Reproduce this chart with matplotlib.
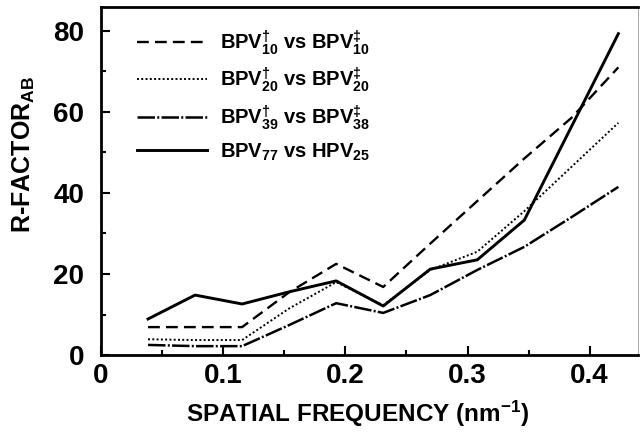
import matplotlib
matplotlib.use("Agg")
import matplotlib.pyplot as plt
from matplotlib.ticker import MultipleLocator

plt.rcParams['font.family'] = ['Liberation Sans', 'DejaVu Sans']
plt.rcParams['font.weight'] = 'bold'
plt.rcParams['mathtext.fontset'] = 'custom'
plt.rcParams['mathtext.rm'] = 'Liberation Sans:bold'
plt.rcParams['mathtext.bf'] = 'Liberation Sans:bold'
plt.rcParams['mathtext.default'] = 'bf'

# spatial frequency (nm^-1)
freq = [0.0385, 0.077, 0.1155, 0.154, 0.1925, 0.231, 0.2695, 0.308, 0.3465, 0.385, 0.4235]
freq_solid = [0.0385, 0.077, 0.1155, 0.154, 0.1925, 0.231, 0.2695, 0.308, 0.3465, 0.4235]

r_bpv10 = [6.9, 6.9, 6.9, 15.5, 22.5, 16.8, 27.5, 38.0, 48.5, 58.5, 71.0]
r_bpv20 = [3.9, 3.7, 3.7, 11.5, 18.0, 12.3, 21.0, 25.5, 35.5, 46.4, 57.3]
r_bpv39 = [2.5, 2.2, 2.2, 7.4, 12.8, 10.4, 14.8, 21.0, 26.7, 34.0, 41.5]
r_hpv = [8.9, 14.8, 12.6, 15.6, 18.3, 12.1, 21.2, 23.5, 33.3, 79.3]

labels = [r'BPV$^{†}_{10}$ vs BPV$^{‡}_{10}$',
          r'BPV$^{†}_{20}$ vs BPV$^{‡}_{20}$',
          r'BPV$^{†}_{39}$ vs BPV$^{‡}_{38}$',
          r'BPV$_{77}$ vs HPV$_{25}$']

fig = plt.figure(figsize=(6.41, 4.33), dpi=100)
ax = fig.add_axes([0.1576, 0.180, 0.8374, 0.804])

ax.plot(freq, r_bpv10, color='black', lw=1.7, dashes=(5, 2.6), label=labels[0])
ax.plot(freq, r_bpv20, color='black', lw=1.4, dashes=(1, 1.2), label=labels[1])
ax.plot(freq, r_bpv39, color='black', lw=1.8, dashes=(7, 0.9, 0.8, 0.9), label=labels[2])
ax.plot(freq_solid, r_hpv, color='black', lw=2.1, label=labels[3])

ax.set_xlim(0, 0.4394)
ax.set_ylim(0, 85.9)
ax.xaxis.set_major_locator(MultipleLocator(0.1))
ax.xaxis.set_minor_locator(MultipleLocator(0.05))
ax.yaxis.set_major_locator(MultipleLocator(20))
ax.yaxis.set_minor_locator(MultipleLocator(10))
ax.set_xticks([0, 0.1, 0.2, 0.3, 0.4])
ax.set_xticklabels(['0', '0.1', '0.2', '0.3', '0.4'])

ax.tick_params(which='both', direction='in', top=False, right=False, width=1.5)
ax.tick_params(which='major', length=6.5, labelsize=20)
ax.tick_params(which='minor', length=3.5)
ax.tick_params(axis='y', pad=12)
ax.tick_params(axis='x', pad=6)

for s in ['left', 'bottom', 'top']:
    ax.spines[s].set_linewidth(2)
ax.spines['right'].set_linewidth(0.6)
ax.spines['right'].set_color('#999999')

ax.set_xlabel(r'SPATIAL FREQUENCY (nm$^{-1}$)', fontsize=17.5, fontweight='bold')
ax.xaxis.set_label_coords(0.477, -0.125)
ax.set_ylabel(r'R-FACTOR$_{AB}$', fontsize=18, fontweight='bold')
ax.yaxis.set_label_coords(-0.12, 0.575)

ax.legend(loc='upper left', bbox_to_anchor=(0.04, 0.98), frameon=False,
          fontsize=14.5, handlelength=3.5, labelspacing=0.45, handletextpad=0.65,
          borderaxespad=0.3)

fig.savefig('out.png', dpi=100)
